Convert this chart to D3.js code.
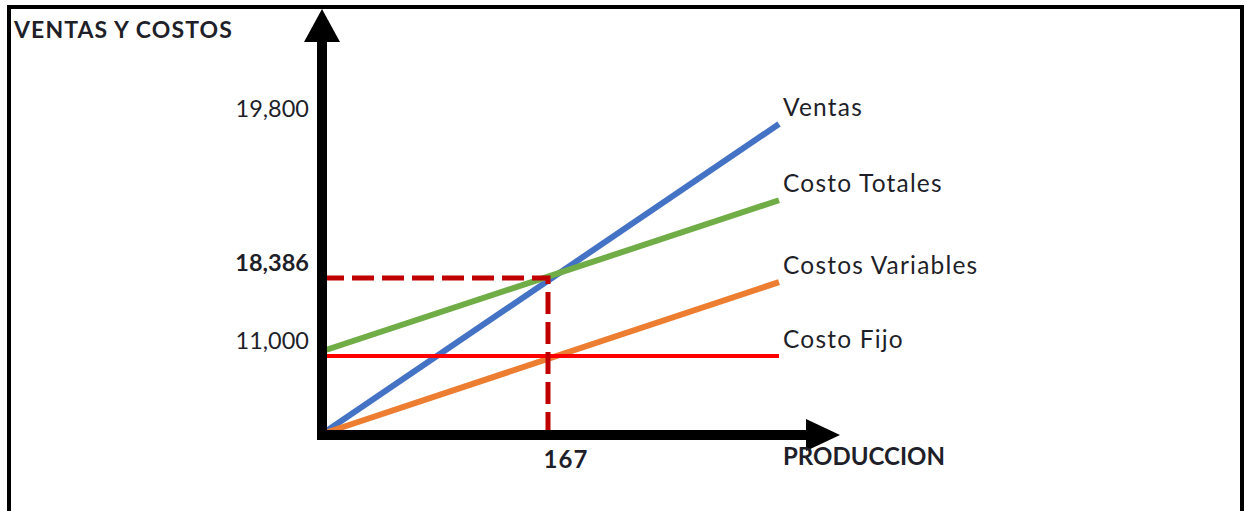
<!DOCTYPE html>
<html>
<head>
<meta charset="utf-8">
<script src="https://cdn.jsdelivr.net/npm/d3@7"></script>
<style>
body { margin: 0; background: #fff; }
svg { display: block; }
text { font-family: Lato, "Open Sans", sans-serif; fill: #1f1f2a; }
.bold { font-weight: bold; }
</style>
</head>
<body>
<svg></svg>
<script>
// breakeven chart data
const production = [0, 167, 180]
const levels = [0, 11000, 18386, 19800]

const series = [
	{name: "Ventas", color: "#4472C4", width: 6, values: [[0, 0], [180, 19800]]},
	{name: "Costo Totales", color: "#70AD47", width: 6, values: [[0, 11450], [180, 19100]]},
	{name: "Costos Variables", color: "#ED7D31", width: 6, values: [[0, 0], [180, 18000]]},
	{name: "Costo Fijo", color: "#FF0000", width: 4, values: [[0, 11000], [180, 11000]]}
]

const yLabels = [
	{value: 19800, text: "19,800", bold: false},
	{value: 18386, text: "18,386", bold: true},
	{value: 11000, text: "11,000", bold: false}
]
const breakEven = {q: 167, v: 18386, label: "167"}

const svg = d3.select("svg")
	.attr("width", 1245)
	.attr("height", 511)

// frame
svg.append("rect")
	.attr("x", 9)
	.attr("y", 7)
	.attr("width", 1233)
	.attr("height", 530)
	.attr("fill", "none")
	.attr("stroke", "#000")
	.attr("stroke-width", 4)

// schematic (piecewise) scales, the picture is not drawn to scale
const x = d3.scaleLinear()
	.domain(production)
	.range([322, 548, 779])

const y = d3.scaleLinear()
	.domain(levels)
	.range([434, 356, 278, 124])

const line = d3.line()
	.x(d => x(d[0]))
	.y(d => y(d[1]))

// lines
svg.selectAll("path.serie")
	.data(series)
	.enter()
	.append("path")
	.attr("class", "serie")
	.attr("d", d => line(d.values))
	.attr("fill", "none")
	.attr("stroke", d => d.color)
	.attr("stroke-width", d => d.width)

// break even dashes
svg.append("path")
	.attr("d", line([[0, breakEven.v], [breakEven.q, breakEven.v], [breakEven.q, 0]]))
	.attr("fill", "none")
	.attr("stroke", "#C00000")
	.attr("stroke-width", 5)
	.attr("stroke-dasharray", "22,8")

// axes with arrows
const x0 = x(0), y0 = y(0)
svg.append("line")
	.attr("x1", x0).attr("y1", y0 + 4)
	.attr("x2", x0).attr("y2", 40)
	.attr("stroke", "#000")
	.attr("stroke-width", 10)
svg.append("path")
	.attr("d", `M${x0},9 L${x0 + 18},42 L${x0 - 18},42 Z`)
	.attr("fill", "#000")

svg.append("line")
	.attr("x1", x0 - 5).attr("y1", y0 + 1)
	.attr("x2", 808).attr("y2", y0 + 1)
	.attr("stroke", "#000")
	.attr("stroke-width", 10)
svg.append("path")
	.attr("d", `M840,${y0 + 1} L806,${y0 - 15} L806,${y0 + 17} Z`)
	.attr("fill", "#000")

// series labels at line ends
svg.selectAll("text.serie")
	.data(series)
	.enter()
	.append("text")
	.attr("class", "serie")
	.attr("x", d => x(d.values[1][0]) + 4)
	.attr("y", d => y(d.values[1][1]) - 8)
	.attr("font-size", 24.5)
	.attr("letter-spacing", 1.2)
	.text(d => d.name)

// value labels
svg.selectAll("text.ylab")
	.data(yLabels)
	.enter()
	.append("text")
	.attr("class", d => d.bold ? "ylab bold" : "ylab")
	.attr("x", 309)
	.attr("y", d => y(d.value) - 7)
	.attr("font-size", 23.5)
	.style("text-anchor", "end")
	.text(d => d.text)

svg.append("text")
	.attr("class", "bold")
	.attr("x", x(breakEven.q) + 18)
	.attr("y", 468)
	.attr("font-size", 24)
	.attr("letter-spacing", 1)
	.style("text-anchor", "middle")
	.text(breakEven.label)

// axis titles
svg.append("text")
	.attr("class", "bold")
	.attr("x", 14)
	.attr("y", 38)
	.attr("font-size", 23)
	.attr("letter-spacing", 1.1)
	.text("VENTAS Y COSTOS")

svg.append("text")
	.attr("class", "bold")
	.attr("x", 783)
	.attr("y", 465)
	.attr("font-size", 24)
	.text("PRODUCCION")
</script>
</body>
</html>
